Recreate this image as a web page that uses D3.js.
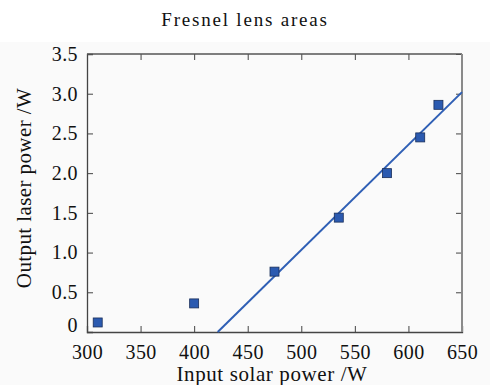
<!DOCTYPE html>
<html>
<head>
<meta charset="utf-8">
<script src="https://cdn.jsdelivr.net/npm/d3@7"></script>
<style>
  html, body { margin: 0; padding: 0; background: #fff; }
  svg text { font-family: "Liberation Serif", "DejaVu Serif", serif; fill: #111; }
</style>
</head>
<body>
<div id="chart"></div>
<script>
const inputPower = [310, 400, 475, 535, 580, 611, 628]
const laserPower = [0.12, 0.36, 0.76, 1.44, 2.0, 2.45, 2.86]
// linear fit line end points
const fitX = [422, 650]
const fitY = [0, 3.02]
const xTicks = [300, 350, 400, 450, 500, 550, 600, 650]
const yTicks = [0, 0.5, 1.0, 1.5, 2.0, 2.5, 3.0, 3.5]
const yTickLabels = ["0", "0.5", "1.0", "1.5", "2.0", "2.5", "3.0", "3.5"]

const width = 490, height = 385
let margin = ({top: 54, right: 28, bottom: 53, left: 87})

const svg = d3.select('#chart').append('svg')
    .attr("width", width)
    .attr("height", height)

// light grey panel below the title
svg.append("rect")
    .attr("x", 0).attr("y", 42)
    .attr("width", width).attr("height", height - 42)
    .attr("fill", "#fafafa")

svg.append("text")
    .attr("x", 245).attr("y", 26)
    .attr("text-anchor", "middle")
    .attr("font-size", 19)
    .attr("letter-spacing", 1.8)
    .text("Fresnel lens areas")

const xScale = d3.scaleLinear()
    .domain([300, 650])
    .range([margin.left, width - margin.right])
const yScale = d3.scaleLinear()
    .domain([0, 3.5])
    .range([height - margin.bottom, margin.top])

const x0 = xScale.range()[0], x1 = xScale.range()[1]
const y0 = yScale.range()[0], y1 = yScale.range()[1]

// axes with inward ticks
const xAxis = d3.axisBottom(xScale).tickValues(xTicks).tickSize(-6).tickPadding(13).tickFormat(d3.format("d"))
const yAxis = d3.axisLeft(yScale).tickValues(yTicks).tickSize(-6).tickPadding(9)
    .tickFormat((d, i) => yTickLabels[i])

svg.append("g")
    .attr("transform", `translate(0, ${y0})`)
    .call(xAxis)
const gy = svg.append("g")
    .attr("transform", `translate(${x0},0)`)
    .call(yAxis)
svg.append("g")
    .attr("transform", `translate(0, ${y1})`)
    .call(d3.axisTop(xScale).tickValues(xTicks).tickSize(-6).tickFormat(""))
    .call(g => g.select(".domain").remove())
svg.append("g")
    .attr("transform", `translate(${x1},0)`)
    .call(d3.axisRight(yScale).tickValues(yTicks).tickSize(-6).tickFormat(""))
    .call(g => g.select(".domain").remove())

svg.selectAll(".tick line").attr("stroke", "#444")
svg.selectAll(".domain").attr("stroke", "#444").attr("stroke-width", 1.3)
svg.selectAll(".tick text")
    .attr("font-family", "Liberation Serif, DejaVu Serif, serif")
    .attr("font-size", 20)
    .attr("letter-spacing", 0.4)
    .attr("fill", "#111")
// lift the "0" label a little so it clears the "300" below it
gy.selectAll(".tick text").filter(d => d === 0).attr("dy", "-0.05em")

// frame top & right
svg.append("line").attr("x1", x0).attr("x2", x1).attr("y1", y1).attr("y2", y1)
    .attr("stroke", "#555").attr("stroke-width", 1.3)
svg.append("line").attr("x1", x1).attr("x2", x1).attr("y1", y1).attr("y2", y0)
    .attr("stroke", "#8a8a8a").attr("stroke-width", 2)

// fit line
const line = d3.line()
    .x(d => xScale(d[0]))
    .y(d => yScale(d[1]))
svg.append("path")
    .datum(d3.zip(fitX, fitY))
    .attr("fill", "none")
    .attr("stroke", "#2f5fb5")
    .attr("stroke-width", 2)
    .attr("d", line)

// data markers
const s = 9
svg.selectAll(".pt")
    .data(d3.zip(inputPower, laserPower))
    .join("rect")
    .attr("class", "pt")
    .attr("x", d => xScale(d[0]) - s / 2)
    .attr("y", d => yScale(d[1]) - s / 2)
    .attr("width", s).attr("height", s)
    .attr("fill", "#2b5ab0")
    .attr("stroke", "#1a2f5a")
    .attr("stroke-width", 0.8)

// axis titles
svg.append("text")
    .attr("x", 272).attr("y", 381)
    .attr("text-anchor", "middle")
    .attr("font-size", 21)
    .attr("letter-spacing", 0.6)
    .text("Input solar power /W")
svg.append("text")
    .attr("transform", `translate(31, 188) rotate(-90)`)
    .attr("text-anchor", "middle")
    .attr("font-size", 21)
    .attr("letter-spacing", 0.4)
    .text("Output laser power /W")
</script>
</body>
</html>
